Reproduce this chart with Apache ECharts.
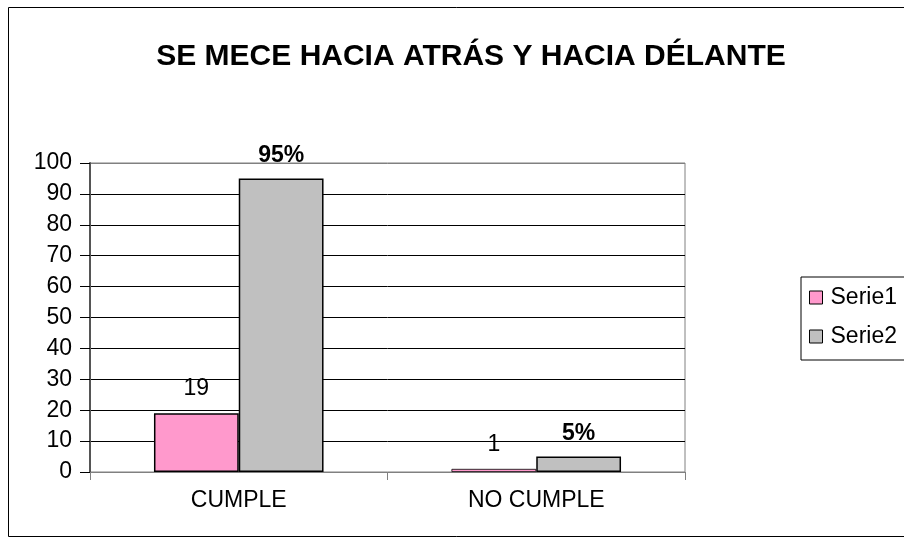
<!DOCTYPE html>
<html>
<head>
<meta charset="utf-8">
<script src="https://cdn.jsdelivr.net/npm/echarts@6/dist/echarts.min.js"></script>
<style>
  html, body { margin: 0; padding: 0; background: #fff; }
  #main { width: 904px; height: 544px; }
</style>
</head>
<body>
<div id="main"></div>
<script>
// datos
const categories = ['CUMPLE', 'NO CUMPLE']
const serie1 = [19, 1]
const serie2 = [95, 5]
const serie2Labels = ['95%', '5%']
const yTicks = [0, 10, 20, 30, 40, 50, 60, 70, 80, 90, 100]

const chart = echarts.init(document.getElementById('main'))
const font = 'Liberation Sans, Arial, sans-serif'

// la linea de 100 es el borde gris del area
const gridColors = yTicks.map(function (v, i) { return i === yTicks.length - 1 ? '#808080' : '#000' })

// barras muy bajas: borde mas fino para que se vea el relleno
function barData(values) {
  return values.map(function (v) {
    return v < 3 ? { value: v, itemStyle: { borderWidth: 0.8 } } : v
  })
}

chart.setOption({
  animation: false,
  backgroundColor: '#fff',
  title: {
    text: 'SE MECE HACIA ATRÁS Y HACIA DÉLANTE',
    left: 466,
    top: 37,
    textAlign: 'center',
    textStyle: { fontFamily: font, fontSize: 30, fontWeight: 'bold', color: '#000' }
  },
  graphic: [
    {
      type: 'rect',
      shape: { x: 8.5, y: 7.5, width: 1000, height: 529 },
      style: { fill: 'none', stroke: '#000', lineWidth: 1 },
      silent: true
    }
  ],
  legend: {
    orient: 'vertical',
    left: 801,
    top: 277,
    itemWidth: 13,
    itemHeight: 13,
    itemGap: 16,
    padding: [9, 40, 12, 8],
    borderColor: '#000',
    borderWidth: 1,
    icon: 'rect',
    itemStyle: { borderColor: '#000', borderWidth: 1 },
    textStyle: { fontFamily: font, fontSize: 23, color: '#000', padding: [0, 0, 0, 3] },
    data: ['Serie1', 'Serie2']
  },
  grid: {
    left: 90, right: 219, top: 163, bottom: 72, containLabel: false,
    show: true, borderColor: '#808080', borderWidth: 1
  },
  xAxis: {
    type: 'category',
    data: categories,
    axisLine: { lineStyle: { color: '#808080', width: 1 } },
    axisTick: { show: true, length: 8, lineStyle: { color: '#808080' } },
    axisLabel: { fontFamily: font, fontSize: 23, color: '#000', margin: 17 }
  },
  yAxis: {
    type: 'value',
    min: yTicks[0],
    max: yTicks[yTicks.length - 1],
    interval: 10,
    axisLine: { show: true, lineStyle: { color: '#555', width: 2 } },
    axisTick: { show: true, length: 10, lineStyle: { color: '#000' } },
    axisLabel: { fontFamily: font, fontSize: 23, color: '#000', margin: 18 },
    splitLine: { show: true, lineStyle: { color: gridColors, width: 1 } }
  },
  series: [
    {
      name: 'Serie1',
      type: 'bar',
      data: barData(serie1),
      barGap: '0%',
      barCategoryGap: '43%',
      itemStyle: { color: '#ff99cc', borderColor: '#000', borderWidth: 1.5 },
      label: {
        show: true,
        position: 'top',
        distance: 13,
        fontFamily: font,
        fontSize: 23,
        color: '#000'
      }
    },
    {
      name: 'Serie2',
      type: 'bar',
      data: barData(serie2),
      itemStyle: { color: '#c0c0c0', borderColor: '#000', borderWidth: 1.5 },
      label: {
        show: true,
        position: 'top',
        distance: 11,
        fontFamily: font,
        fontSize: 23,
        fontWeight: 'bold',
        color: '#000',
        formatter: function (p) { return serie2Labels[p.dataIndex] }
      }
    }
  ]
})
</script>
</body>
</html>
